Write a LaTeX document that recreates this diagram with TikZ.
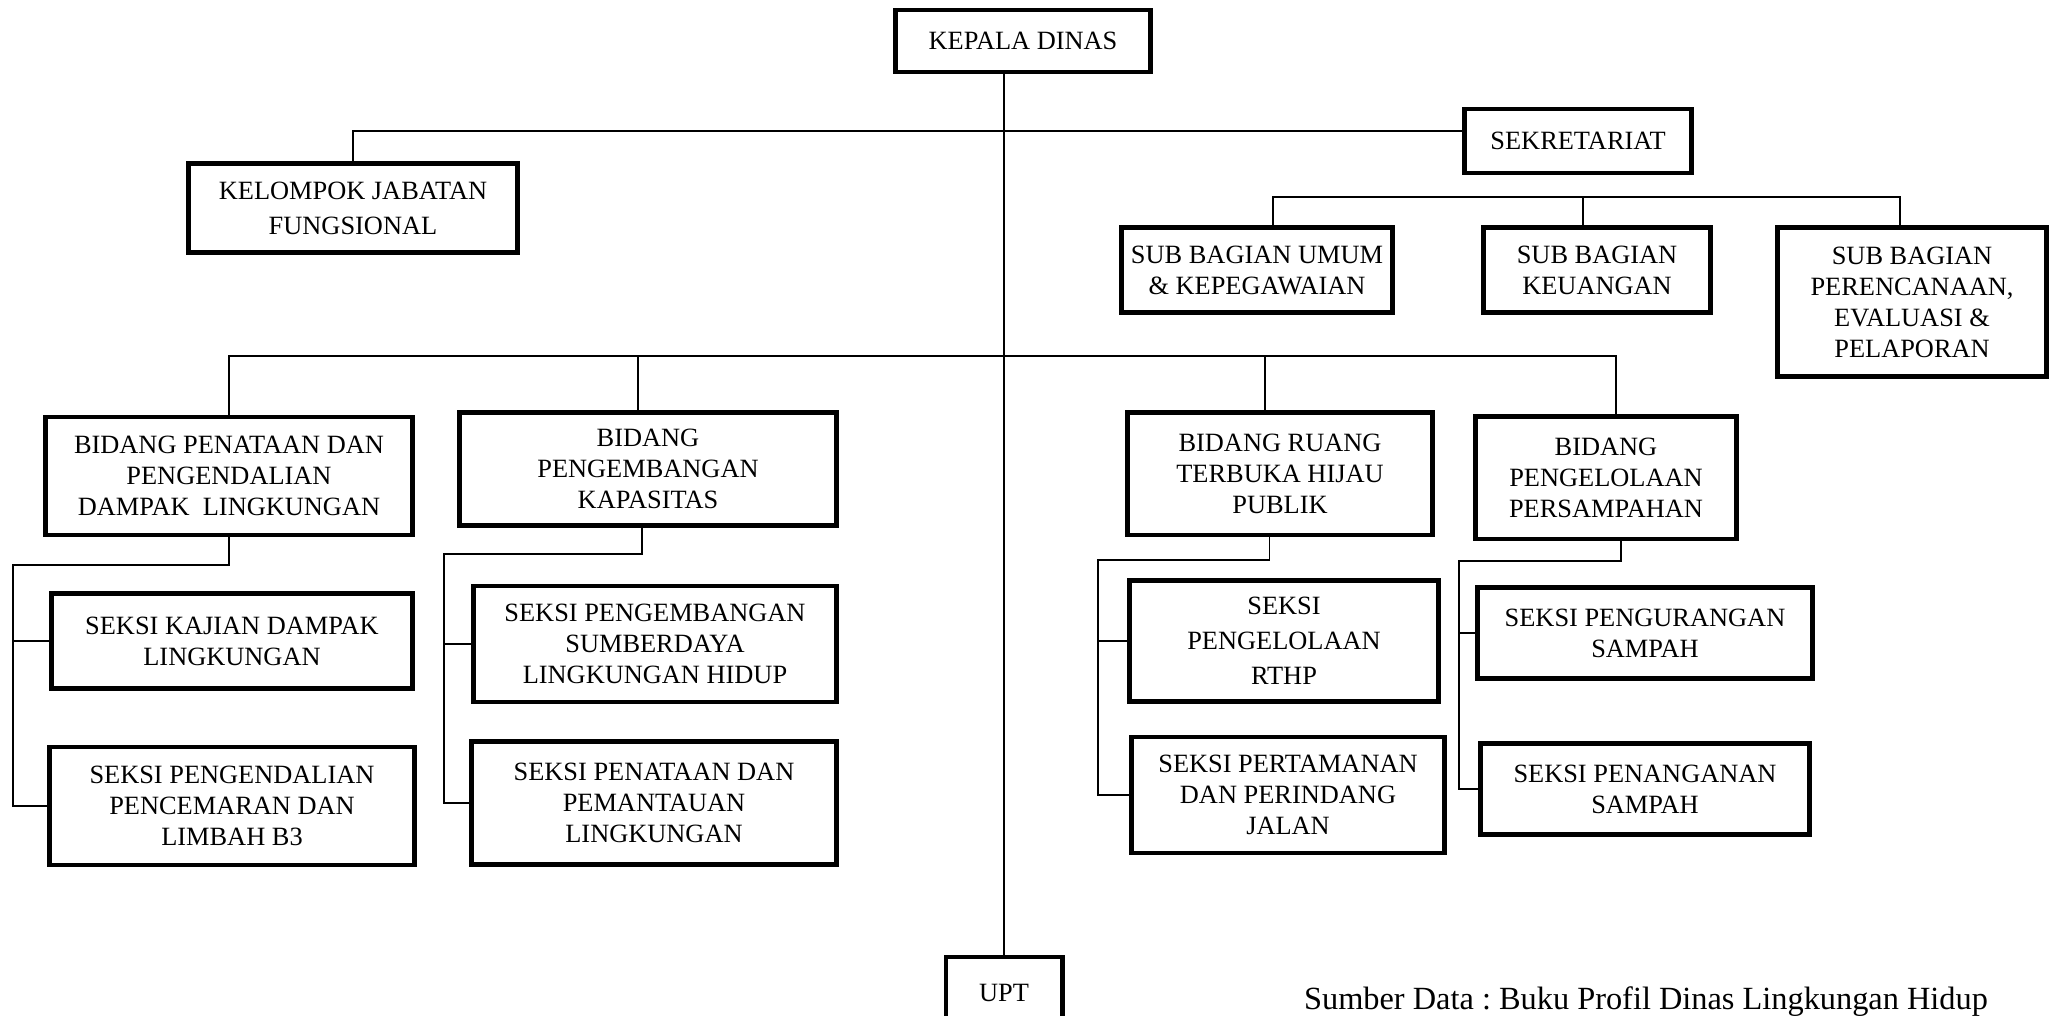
\documentclass[tikz,border=0pt]{standalone}
\usepackage{fontspec}
\setmainfont{Liberation Serif}
\usetikzlibrary{positioning,calc}
\tikzset{
  unit/.style={rectangle,draw=black,line width=1.4pt,fill=white,
               font=\fontsize{7.5}{8.8}\selectfont,align=center,inner sep=2pt},
  wideunit/.style={unit,font=\fontsize{7.5}{10}\selectfont},
  link/.style={line width=0.55pt,black},
}
\begin{document}
\begin{tikzpicture}[x=0.01cm,y=-0.01cm]
  \useasboundingbox (0,0) rectangle (2055,1016);
  % top level
  \node[unit,minimum width=2.55cm,minimum height=0.62cm]
    (kd) at (1023,41) {KEPALA DINAS};
  \node[unit,minimum width=2.27cm,minimum height=0.64cm]
    (sek) at (1578,141) {SEKRETARIAT};
  \node[wideunit,minimum width=3.29cm,minimum height=0.89cm]
    (kjf) at (353,208) {KELOMPOK JABATAN\\FUNGSIONAL};
  % sub bagian
  \node[unit,minimum width=2.70cm,minimum height=0.85cm]
    (sbu) at (1257,270) {SUB BAGIAN UMUM\\\& KEPEGAWAIAN};
  \node[unit,minimum width=2.26cm,minimum height=0.85cm]
    (sbk) at (1597,270) {SUB BAGIAN\\KEUANGAN};
  \node[unit,minimum width=2.69cm,minimum height=1.48cm]
    (sbp) at (1912,302) {SUB BAGIAN\\PERENCANAAN,\\EVALUASI \&\\PELAPORAN};
  % bidang
  \node[unit,minimum width=3.67cm,minimum height=1.18cm]
    (bp1) at (229,476) {BIDANG PENATAAN DAN\\PENGENDALIAN\\DAMPAK~ LINGKUNGAN};
  \node[unit,minimum width=3.77cm,minimum height=1.13cm]
    (bp2) at (648,469) {BIDANG\\PENGEMBANGAN\\KAPASITAS};
  \node[unit,minimum width=3.04cm,minimum height=1.22cm]
    (bp3) at (1280,474) {BIDANG RUANG\\TERBUKA HIJAU\\PUBLIK};
  \node[unit,minimum width=2.61cm,minimum height=1.22cm]
    (bp4) at (1606,478) {BIDANG\\PENGELOLAAN\\PERSAMPAHAN};
  % seksi
  \node[unit,minimum width=3.61cm,minimum height=0.95cm]
    (s1a) at (232,641) {SEKSI KAJIAN DAMPAK\\LINGKUNGAN};
  \node[unit,minimum width=3.65cm,minimum height=1.18cm]
    (s1b) at (232,806) {SEKSI PENGENDALIAN\\PENCEMARAN DAN\\LIMBAH B3};
  \node[unit,minimum width=3.63cm,minimum height=1.16cm]
    (s2a) at (655,644) {SEKSI PENGEMBANGAN\\SUMBERDAYA\\LINGKUNGAN HIDUP};
  \node[unit,minimum width=3.65cm,minimum height=1.23cm]
    (s2b) at (654,803) {SEKSI PENATAAN DAN\\PEMANTAUAN\\LINGKUNGAN};
  \node[wideunit,minimum width=3.08cm,minimum height=1.21cm]
    (s3a) at (1284,641) {SEKSI\\PENGELOLAAN\\RTHP};
  \node[unit,minimum width=3.12cm,minimum height=1.16cm]
    (s3b) at (1288,795) {SEKSI PERTAMANAN\\DAN PERINDANG\\JALAN};
  \node[unit,minimum width=3.35cm,minimum height=0.91cm]
    (s4a) at (1645,633) {SEKSI PENGURANGAN\\SAMPAH};
  \node[unit,minimum width=3.28cm,minimum height=0.91cm]
    (s4b) at (1645,789) {SEKSI PENANGANAN\\SAMPAH};
  % bottom
  \node[unit,minimum width=1.16cm,minimum height=0.72cm]
    (upt) at (1004,993) {UPT};
  \node[anchor=base,font=\fontsize{9.2}{11}\selectfont\frenchspacing]
    (src) at (1646,1009) {Sumber Data : Buku Profil Dinas Lingkungan Hidup};

  % connectors
  \coordinate (sekbus) at (0,197);
  \coordinate (bidbus) at (0,356);
  \coordinate (g1) at (13,565);
  \coordinate (g2) at (444,554);
  \coordinate (g3) at (1098,560);
  \coordinate (g4) at (1459,561);
  \draw[link] (upt.north) -- (upt.north |- kd.south);
  \draw[link] (kjf.north) |- ([yshift=2.8pt]sek.west);
  \draw[link] ([xshift=4.5pt]sbu.north) |- ([xshift=-3.4pt]sbp.north |- sekbus)
    -- ([xshift=-3.4pt]sbp.north);
  \draw[link] ([xshift=-4pt]sbk.north) -- ([xshift=-4pt]sbk.north |- sekbus);
  \draw[link] (bp1.north) |- ([xshift=2.8pt]bp4.north |- bidbus)
    -- ([xshift=2.8pt]bp4.north);
  \draw[link] ([xshift=-2.8pt]bp2.north) -- ([xshift=-2.8pt]bp2.north |- bidbus);
  \draw[link] ([xshift=-4.3pt]bp3.north) -- ([xshift=-4.3pt]bp3.north |- bidbus);
  \draw[link] (bp1.south) |- (g1) -- (g1 |- s1b.west) -- (s1b.west);
  \draw[link] (g1 |- s1a.west) -- (s1a.west);
  \draw[link] ([xshift=-1.7pt]bp2.south) |- (g2) -- (g2 |- s2b.west) -- (s2b.west);
  \draw[link] (g2 |- s2a.west) -- (s2a.west);
  \draw[link] ([xshift=-3pt]bp3.south) |- (g3) -- (g3 |- s3b.west) -- (s3b.west);
  \draw[link] (g3 |- s3a.west) -- (s3a.west);
  \draw[link] ([xshift=4.3pt]bp4.south) |- (g4) -- (g4 |- s4b.west) -- (s4b.west);
  \draw[link] (g4 |- s4a.west) -- (s4a.west);
\end{tikzpicture}
\end{document}
